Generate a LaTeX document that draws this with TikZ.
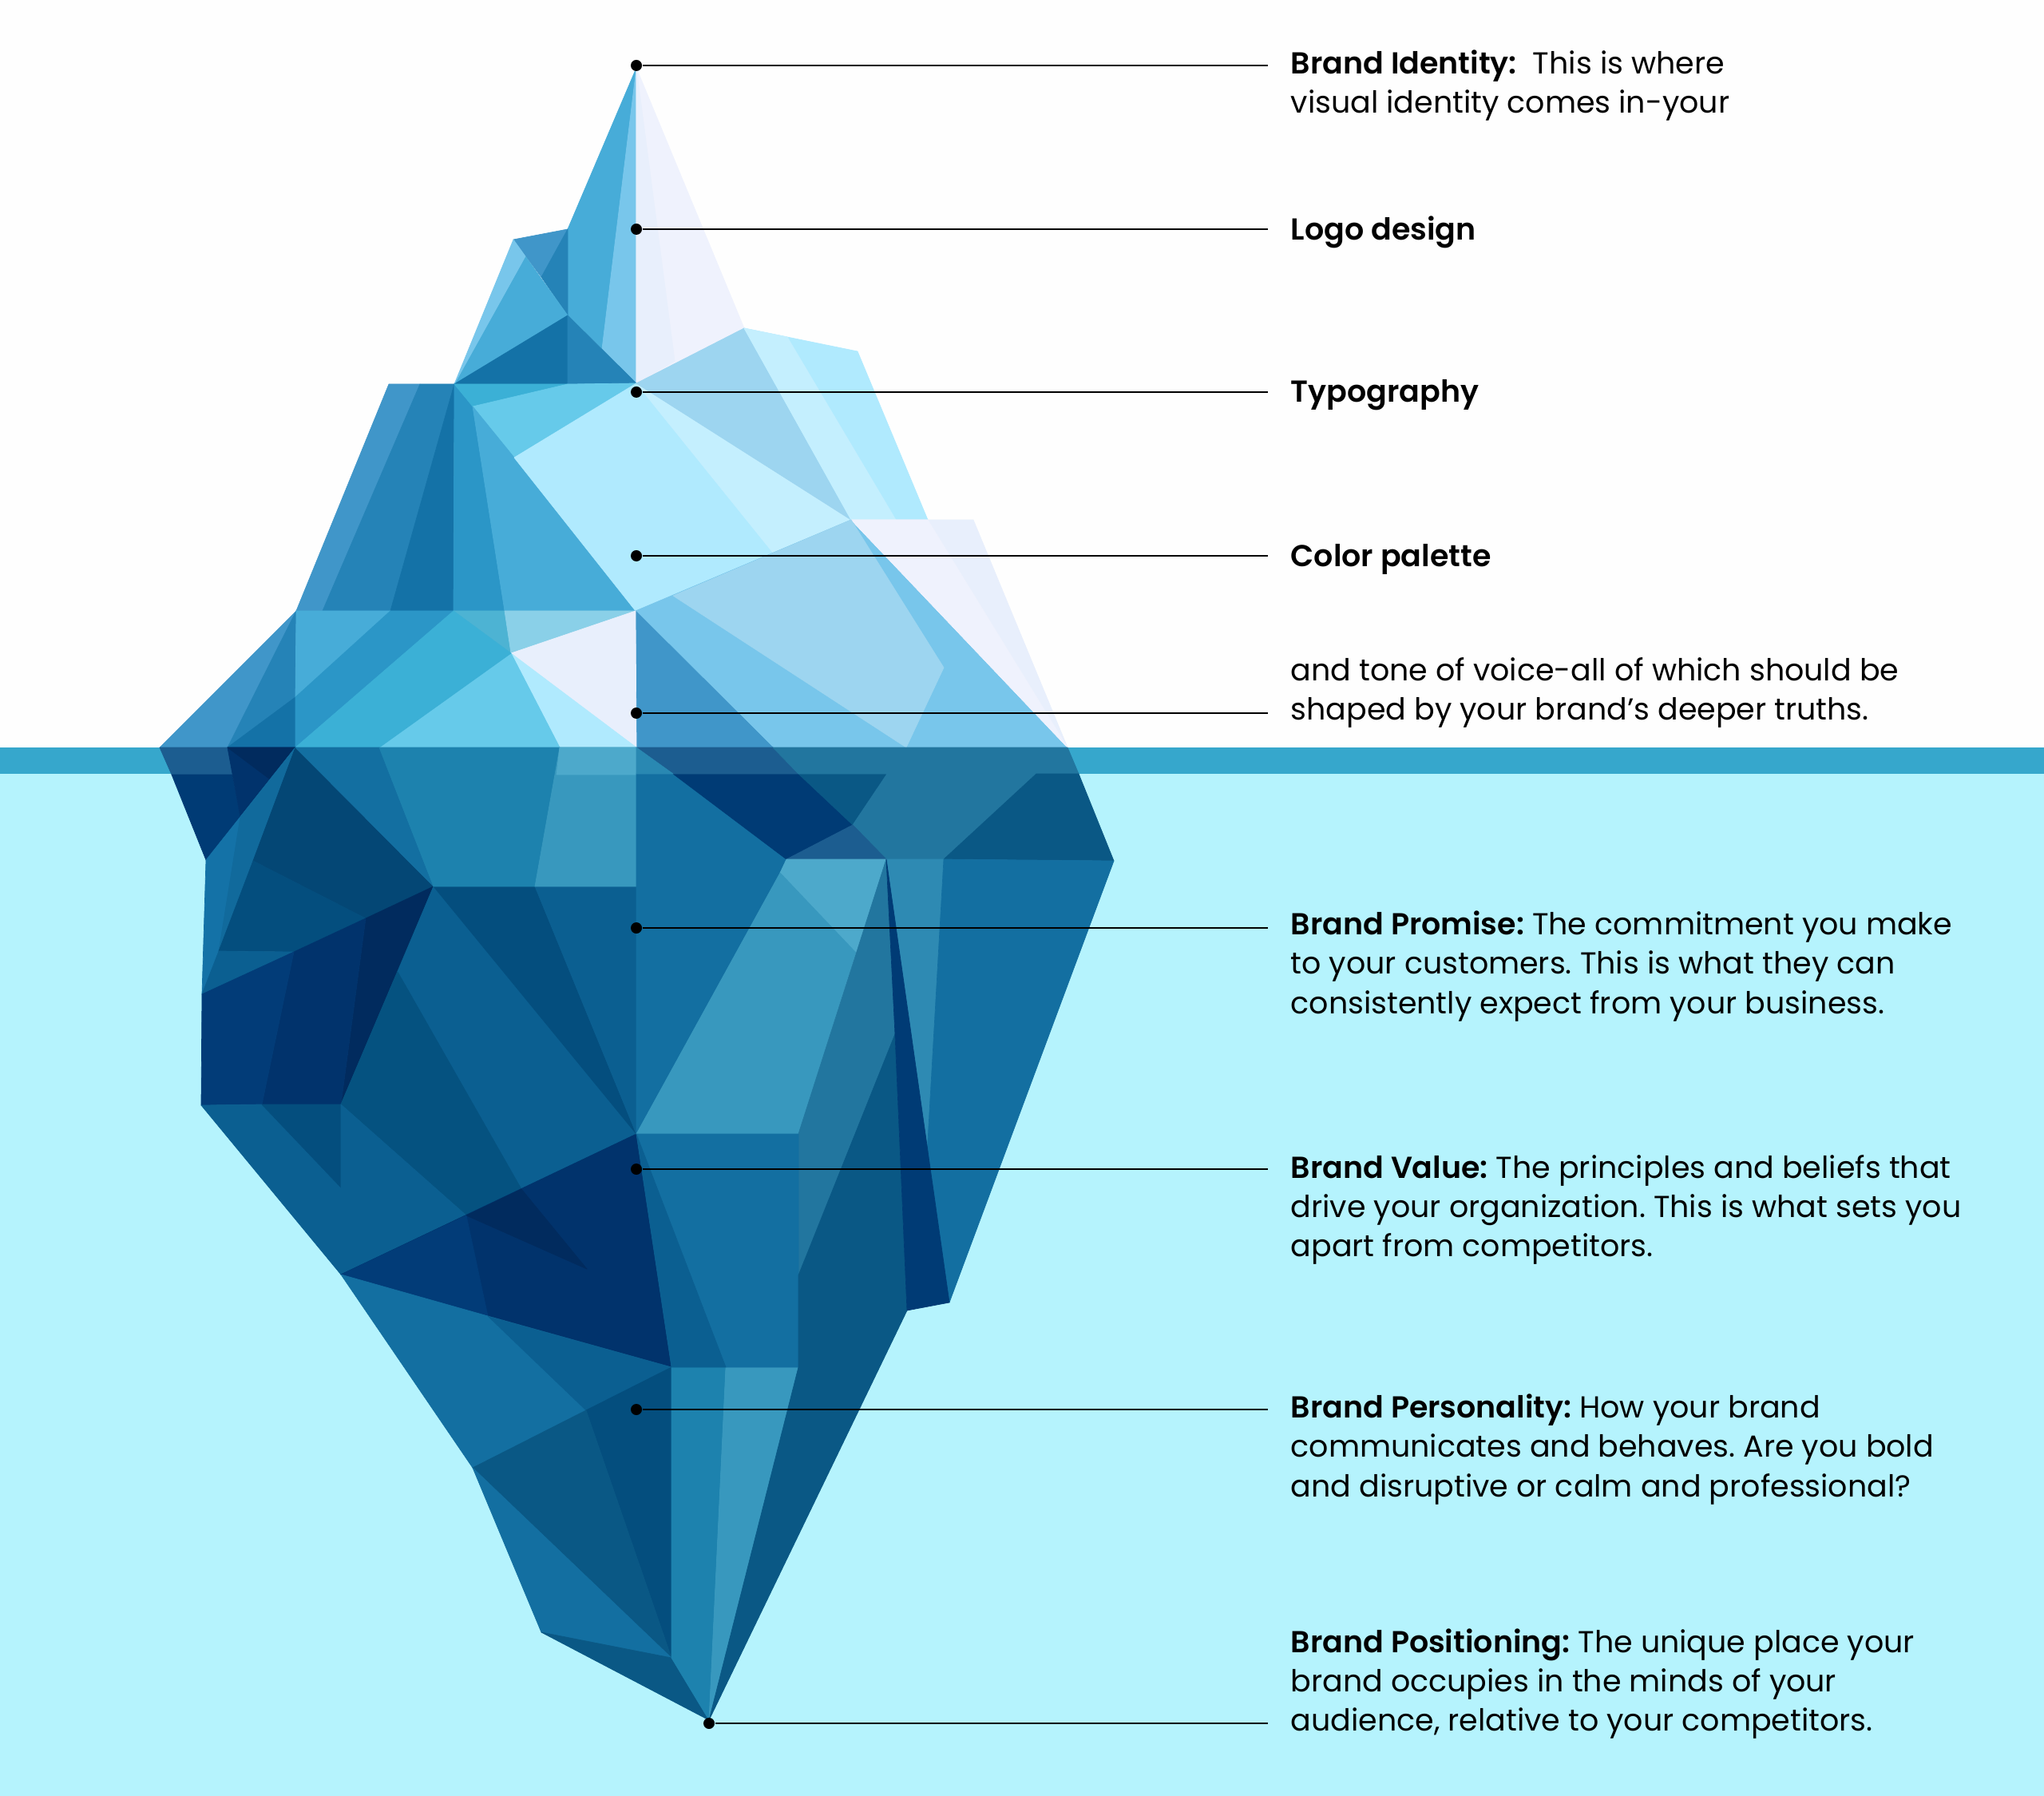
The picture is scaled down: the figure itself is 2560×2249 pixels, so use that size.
\documentclass[tikz,border=0pt]{standalone}
\usepackage{fontspec}
\setmainfont{Poppins}[BoldFont={Poppins SemiBold}]
\definecolor{kWater}{HTML}{B5F3FD}
\definecolor{kBand}{HTML}{36A7CC}
\definecolor{kTop}{HTML}{FEFEFE}
\definecolor{kLavA}{HTML}{E8EFFC}
\definecolor{kLavB}{HTML}{EFF2FD}
\definecolor{kPale}{HTML}{B0EAFE}
\definecolor{kPaler}{HTML}{C4EFFE}
\definecolor{kSky}{HTML}{9DD5F0}
\definecolor{kLb}{HTML}{78C6EB}
\definecolor{kMb}{HTML}{47ACD8}
\definecolor{kAq}{HTML}{66CAEA}
\definecolor{kTeal}{HTML}{3BB0D6}
\definecolor{kB1}{HTML}{4096C9}
\definecolor{kB2}{HTML}{2583B7}
\definecolor{kB3}{HTML}{1472A7}
\definecolor{kB4}{HTML}{2B96C7}
\definecolor{kMix}{HTML}{4DB3D3}
\definecolor{kMixL}{HTML}{8AD0E8}
\definecolor{kU1}{HTML}{136FA1}
\definecolor{kU2}{HTML}{0B5F91}
\definecolor{kU3}{HTML}{0A5885}
\definecolor{kU4}{HTML}{044E7E}
\definecolor{kU4a}{HTML}{044775}
\definecolor{kU4b}{HTML}{055280}
\definecolor{kU5}{HTML}{023C78}
\definecolor{kU6}{HTML}{01336C}
\definecolor{kU7}{HTML}{012B5E}
\definecolor{kU8}{HTML}{1D82AE}
\definecolor{kU9}{HTML}{3898BE}
\definecolor{kU10}{HTML}{4DA9CB}
\definecolor{kU11}{HTML}{22769F}
\definecolor{kU12}{HTML}{1C5D90}
\definecolor{kU13}{HTML}{2E8AB3}
\definecolor{kU14}{HTML}{003B75}
\tikzset{
  facet/.style={fill=#1,draw=#1,line width=.2pt,line join=round},
  dotmark/.style={circle,fill=black,inner sep=0pt,minimum size=0.14cm},
  leader/.style={draw=black,line width=0.65pt},
  note/.style={anchor=west,align=left,inner sep=0pt,font=\fontsize{10.79pt}{13.95pt}\selectfont\frenchspacing}
}
\newcommand{\fct}[2]{\path[facet=#1] #2 -- cycle;}
\begin{document}
\begin{tikzpicture}[x=0.01cm,y=-0.01cm]
\useasboundingbox (0,0) rectangle (2560,2249);
\fill[kTop] (0,0) rectangle (2560,936);
\fill[kWater] (0,969) rectangle (2560,2249);
\fill[kBand] (0,936) rectangle (2560,969);
% --- top spire
\fct{kMb}{(797,85)--(711,287)--(711,395)--(754,437)}
\fct{kLb}{(797,85)--(754,437)--(797,480)}
\fct{kLavB}{(797,85)--(932,411)--(797,480)}
\fct{kLavA}{(797,85)--(845,452)--(797,480)}
\fct{kB1}{(643,300)--(711,287)--(678,347)}
\fct{kB2}{(711,287)--(711,395)--(678,347)}
\fct{kMb}{(658,321)--(711,395)--(569,481)}
\fct{kLb}{(643,300)--(658,321)--(569,481)}
\fct{kB3}{(569,481)--(711,395)--(711,481)}
\fct{kB2}{(711,395)--(797,480)--(711,481)}
% --- second tier left
\fct{kB1}{(487,481)--(526,481)--(404,765)--(371,765)}
\fct{kB2}{(526,481)--(569,481)--(489,765)--(404,765)}
\fct{kB3}{(569,481)--(568,765)--(489,765)}
\fct{kB4}{(569,481)--(592,509)--(632,765)--(568,765)}
\fct{kTeal}{(569,481)--(711,481)--(592,509)}
\fct{kAq}{(592,509)--(711,481)--(797,480)--(644,573)}
\fct{kMb}{(592,509)--(644,573)--(796,765)--(632,765)}
\fct{kPale}{(797,480)--(644,573)--(796,765)--(1066,651)}
\fct{kPaler}{(797,480)--(1066,651)--(968,692)}
\fct{kSky}{(797,480)--(932,411)--(1066,651)}
\fct{kPale}{(932,411)--(1074,440)--(1162,651)--(1066,651)}
\fct{kPaler}{(932,411)--(986,422)--(1122,651)--(1066,651)}
% --- right tier
\fct{kLb}{(796,765)--(1066,651)--(1337,936)--(968,936)}
\fct{kB1}{(796,765)--(968,936)--(797,936)}
\fct{kLavA}{(1066,651)--(1219,651)--(1337,936)}
\fct{kLavB}{(1066,651)--(1162,651)--(1337,936)}
\fct{kSky}{(1066,651)--(1182,836)--(1135,936)--(843,746)}
% --- third tier left
\fct{kB1}{(200,936)--(371,765)--(285,936)}
\fct{kB2}{(371,765)--(370,873)--(285,936)}
\fct{kB3}{(370,873)--(370,936)--(285,936)}
\fct{kMb}{(371,765)--(489,765)--(370,873)}
\fct{kB4}{(489,765)--(568,765)--(370,936)--(370,873)}
\fct{kMix}{(568,765)--(632,765)--(640,818)}
\fct{kMixL}{(632,765)--(796,765)--(640,818)}
\fct{kLavA}{(640,818)--(796,765)--(797,936)}
\fct{kPale}{(640,818)--(797,936)--(701,936)}
\fct{kAq}{(640,818)--(701,936)--(475,936)}
\fct{kTeal}{(568,765)--(640,818)--(475,936)--(370,936)}
% --- under water, left
\fct{kU12}{(200,936)--(285,936)--(291,970)--(215,970)}
\fct{kU14}{(215,970)--(291,970)--(301,1023)--(258,1077)}
\fct{kU6}{(285,936)--(370,936)--(301,1023)}
\fct{kU7}{(285,936)--(370,936)--(337,975)}
\fct{kB3}{(258,1077)--(370,936)--(317,1078)--(274,1191)--(253,1245)}
\fct{kU1!70!kU2}{(301,1023)--(370,936)--(317,1078)--(274,1191)}
\fct{kU4a}{(370,936)--(543,1110)--(458,1150)--(317,1078)}
\fct{kU4}{(317,1078)--(458,1150)--(368,1192)--(274,1191)}
\fct{kU2}{(274,1191)--(368,1192)--(253,1245)}
\fct{kU7}{(543,1110)--(458,1150)--(427,1383)}
\fct{kU6}{(458,1150)--(368,1192)--(328,1383)--(427,1383)}
\fct{kU5}{(368,1192)--(253,1245)--(252,1384)--(328,1383)}
\fct{kU2}{(252,1384)--(328,1383)--(427,1487)--(427,1596)}
\fct{kU4}{(328,1383)--(427,1383)--(427,1487)}
\fct{kU4b}{(427,1383)--(543,1110)--(498,1217)}
\fct{kU2}{(543,1110)--(498,1217)--(653,1489)--(797,1420)}
\fct{kU4b}{(427,1383)--(498,1217)--(653,1489)--(584,1522)}
\fct{kU2}{(427,1383)--(584,1522)--(427,1596)}
\fct{kU4}{(543,1110)--(670,1110)--(797,1420)}
\fct{kU2}{(670,1110)--(797,1110)--(797,1420)}
\fct{kU1}{(370,936)--(475,936)--(543,1110)}
\fct{kU8}{(475,936)--(701,936)--(670,1110)--(543,1110)}
\fct{kU9}{(701,936)--(797,936)--(797,1110)--(670,1110)}
\fct{kU10}{(701,936)--(797,936)--(797,970)--(697,970)}
% --- under water, lower
\fct{kU6}{(797,1420)--(841,1712)--(427,1596)}
\fct{kU7}{(584,1522)--(653,1489)--(735,1589)}
\fct{kU5}{(427,1596)--(584,1522)--(611,1648)}
\fct{kU1}{(427,1596)--(611,1648)--(734,1766)--(592,1838)}
\fct{kU2}{(611,1648)--(841,1712)--(734,1766)}
\fct{kU4}{(734,1766)--(841,1712)--(841,2076)}
\fct{kU3}{(592,1838)--(734,1766)--(841,2076)}
\fct{kU1}{(592,1838)--(841,2076)--(678,2044)}
\fct{kU3}{(678,2044)--(841,2076)--(888,2154)}
\fct{kU8}{(841,1712)--(909,1712)--(888,2154)--(841,2076)}
\fct{kU9}{(909,1712)--(1000,1712)--(888,2154)}
% --- under water, right
\fct{kU1}{(797,969)--(843,969)--(985,1076)--(977,1093)--(797,1420)}
\fct{kU14}{(843,969)--(1000,969)--(1068,1033)--(985,1076)}
\fct{kU12}{(797,936)--(968,936)--(1000,969)--(843,969)}
\fct{kU9!60!kU1}{(797,936)--(843,969)--(797,969)}
\fct{kU3}{(1000,969)--(1111,969)--(1068,1033)}
\fct{kU11}{(968,936)--(1337,936)--(1351,969)--(1298,969)--(1182,1076)--(1110,1076)--(1068,1033)--(1111,969)--(1000,969)}
\fct{kU3}{(1298,969)--(1351,969)--(1395,1078)--(1182,1076)}
\fct{kU12}{(985,1076)--(1068,1033)--(1110,1076)}
\fct{kU10}{(985,1076)--(1110,1076)--(1072,1193)--(977,1093)}
\fct{kU9}{(977,1093)--(1072,1193)--(1000,1420)--(797,1420)}
\fct{kU11}{(1110,1076)--(1121,1295)--(1000,1597)--(1000,1420)}
\fct{kU1}{(797,1420)--(1000,1420)--(1000,1712)--(909,1712)}
\fct{kU2}{(797,1420)--(909,1712)--(841,1712)}
\fct{kU3}{(1000,1597)--(1121,1295)--(1136,1641)--(888,2154)--(1000,1712)}
\fct{kU13}{(1110,1076)--(1182,1076)--(1161.5,1438)}
\fct{kU1}{(1182,1076)--(1395,1078)--(1189,1631)--(1161.5,1438)}
\fct{kU14}{(1110,1076)--(1189,1631)--(1136,1641)--(1121,1295)}
% --- leaders
\node[dotmark] (d1) at (797,82) {};
\node[dotmark] (d2) at (797,287) {};
\node[dotmark] (d3) at (797,491) {};
\node[dotmark] (d4) at (797,696) {};
\node[dotmark] (d5) at (797,893) {};
\node[dotmark] (d6) at (797,1162) {};
\node[dotmark] (d7) at (797,1464) {};
\node[dotmark] (d8) at (797,1765) {};
\node[dotmark] (d9) at (888,2158) {};
\coordinate (e1) at (1588,82);
\coordinate (e2) at (1588,287);
\coordinate (e3) at (1588,491);
\coordinate (e4) at (1588,696);
\coordinate (e5) at (1588,893);
\coordinate (e6) at (1588,1162);
\coordinate (e7) at (1588,1464);
\coordinate (e8) at (1588,1765);
\coordinate (e9) at (1588,2158);
\draw[leader] (d1)--(e1);
\draw[leader] (d2)--(e2);
\draw[leader] (d3)--(e3);
\draw[leader] (d4)--(e4);
\draw[leader] (d5)--(e5);
\draw[leader] (d6)--(e6);
\draw[leader] (d7)--(e7);
\draw[leader] (d8)--(e8);
\draw[leader] (d9)--(e9);
% --- notes
\node[note] (t1) at (1616,107) {\textbf{Brand Identity:}\ \ This is where\\visual identity comes in-your};
\node[note] (t2) at (1616,291) {\textbf{Logo design}};
\node[note] (t3) at (1616,495) {\textbf{Typography}};
\node[note] (t4) at (1616,700) {\textbf{Color palette}};
\node[note] (t5) at (1616,867) {and tone of voice-all of which should be\\shaped by your brand’s deeper truths.};
\node[note] (t6) at (1616,1210) {\textbf{Brand Promise:} The commitment you make\\to your customers. This is what they can\\consistently expect from your business.};
\node[note] (t7) at (1616,1515) {\textbf{Brand Value:} The principles and beliefs that\\drive your organization. This is what sets you\\apart from competitors.};
\node[note] (t8) at (1616,1815) {\textbf{Brand Personality:} How your brand\\communicates and behaves. Are you bold\\and disruptive or calm and professional?};
\node[note] (t9) at (1616,2108.5) {\textbf{Brand Positioning:} The unique place your\\brand occupies in the minds of your\\audience, relative to your competitors.};
\end{tikzpicture}
\end{document}
